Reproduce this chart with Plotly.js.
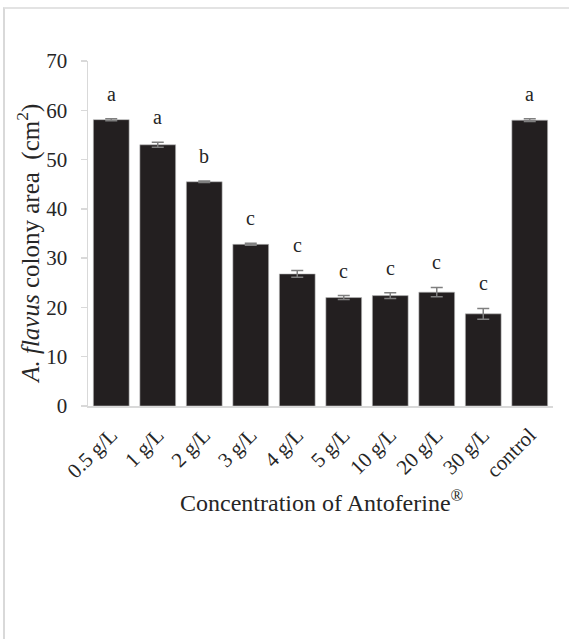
<!DOCTYPE html>
<html>
<head>
<meta charset="utf-8">
<script src="https://cdn.plot.ly/plotly-3.0.1.min.js"></script>
<style>
  html, body { margin: 0; padding: 0; background: #fff; }
  #frame { position: absolute; left: 3px; top: 7px; width: 566px; height: 632px;
           border-left: 2px solid #d9d9d9; border-top: 2px solid #e3e3e3; box-sizing: border-box; }
  #chart { position: absolute; left: 0; top: 0; width: 569px; height: 639px; }
</style>
</head>
<body>
<div id="frame"></div>
<div id="chart"></div>
<script>
const categories = ["0.5 g/L", "1 g/L", "2 g/L", "3 g/L", "4 g/L", "5 g/L", "10 g/L", "20 g/L", "30 g/L", "control"];
const colonyArea = [58.1, 53.0, 45.5, 32.8, 26.8, 22.0, 22.4, 23.1, 18.7, 58.0];
const errorValues = [0.2, 0.5, 0.15, 0.2, 0.7, 0.4, 0.6, 0.95, 1.1, 0.3];
const letters = ["a", "a", "b", "c", "c", "c", "c", "c", "c", "a"];
const yTicks = [0, 10, 20, 30, 40, 50, 60, 70];
const xTitle = "Concentration of Antoferine<sup>®</sup>";
const yTitle = "<i>A. flavus</i> colony area  (cm<sup>2</sup>)";

const serif = "Liberation Serif, Times New Roman, serif";
const textColor = "#262626";

const trace = {
  type: "bar",
  x: categories,
  y: colonyArea,
  marker: { color: "#231f20", line: { color: "#bfbfbf", width: 0.6 } },
  error_y: { type: "data", array: errorValues, visible: true, color: "#7f7f7f", thickness: 1.5, width: 6 },
  hoverinfo: "skip"
};

const annotations = categories.map((c, i) => ({
  x: c, y: colonyArea[i] + errorValues[i], xref: "x", yref: "y",
  text: letters[i], showarrow: false, yanchor: "bottom", yshift: 12,
  font: { family: serif, size: 20, color: textColor }
}));
annotations.push({
  xref: "paper", yref: "paper", x: 0.503, y: -0.276, xanchor: "center", yanchor: "middle",
  text: xTitle, showarrow: false, font: { family: serif, size: 24, color: textColor }
});
annotations.push({
  xref: "paper", yref: "paper", x: -0.127, y: 0.47, xanchor: "center", yanchor: "middle",
  textangle: -90, text: yTitle, showarrow: false, font: { family: serif, size: 25, color: textColor }
});

const layout = {
  width: 569, height: 639,
  margin: { l: 88, r: 16, t: 61, b: 233 },
  paper_bgcolor: "rgba(0,0,0,0)", plot_bgcolor: "rgba(0,0,0,0)",
  showlegend: false,
  bargap: 0.23,
  font: { family: serif, color: textColor },
  xaxis: {
    type: "category",
    tickangle: -45,
    tickfont: { family: serif, size: 21, color: textColor },
    showline: true, linecolor: "#d9d9d9", linewidth: 1.5,
    ticks: "outside", ticklen: 7, tickcolor: "rgba(0,0,0,0)",
    showgrid: false, zeroline: false,
    automargin: false
  },
  yaxis: {
    range: [0, 70],
    tickvals: yTicks,
    ticktext: yTicks.map(String),
    tickfont: { family: serif, size: 21, color: textColor },
    showline: true, linecolor: "#d9d9d9", linewidth: 1.5,
    ticks: "outside", ticklen: 6, tickcolor: "#d9d9d9", tickwidth: 1.5,
    ticklabelstandoff: 9,
    showgrid: false, zeroline: false,
    automargin: false
  },
  annotations: annotations
};

Plotly.newPlot("chart", [trace], layout, { staticPlot: true, displayModeBar: false });
</script>
</body>
</html>
